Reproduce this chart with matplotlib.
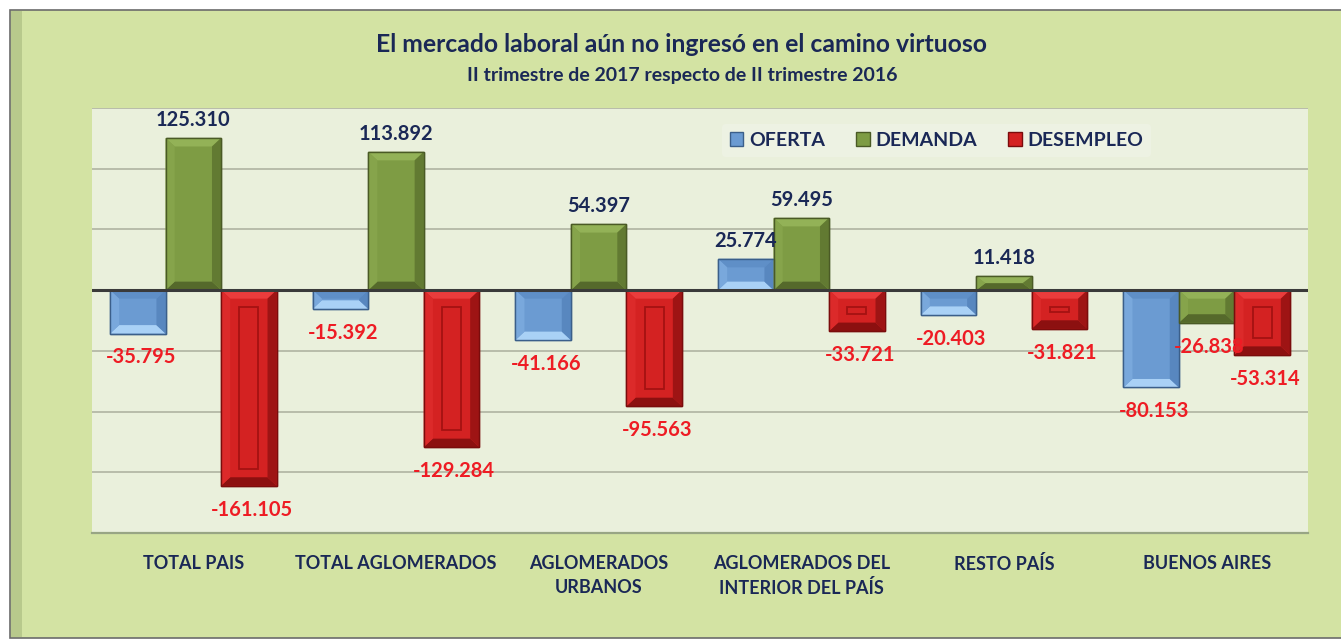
import numpy as np
import matplotlib
matplotlib.use("Agg")
import matplotlib.pyplot as plt
from matplotlib.patches import Polygon, Rectangle, Patch

plt.rcParams['font.family'] = ['Lato', 'DejaVu Sans']
plt.rcParams['font.weight'] = 'bold'

# data (miles de personas)
categories = ["TOTAL PAIS", "TOTAL AGLOMERADOS", "AGLOMERADOS\nURBANOS",
              "AGLOMERADOS DEL\nINTERIOR DEL PAÍS", "RESTO PAÍS", "BUENOS AIRES"]
oferta = [-35.795, -15.392, -41.166, 25.774, -20.403, -80.153]
demanda = [125.310, 113.892, 54.397, 59.495, 11.418, -26.838]
desempleo = [-161.105, -129.284, -95.563, -33.721, -31.821, -53.314]
series_names = ["OFERTA", "DEMANDA", "DESEMPLEO"]

navy = '#1a2856'
red_txt = '#ee1c24'

# face, top, bottom, left, right, edge
styles = {
    "OFERTA": dict(face='#6b9bd2', top='#5f8fc7', bottom='#a9d1f6', left='#79a8dc', right='#5887bf', edge='#3b5f8a'),
    "DEMANDA": dict(face='#7e9c44', top='#93b257', bottom='#55692b', left='#86a44b', right='#627a32', edge='#4a5a25'),
    "DESEMPLEO": dict(face='#d42222', top='#ea3c3c', bottom='#8c1010', left='#dc2a2a', right='#9e1414', edge='#7a0c0c'),
}

fig = plt.figure(figsize=(13.41, 6.42), dpi=100)
fig.patch.set_facecolor('white')

# outer chart frame
W, H = 1341, 642
fig.patches.append(Rectangle((10 / W, 4 / H), 1.0, (638 - 10) / H, transform=fig.transFigure,
                             facecolor='#d3e3a3', edgecolor='#6b6b6b', lw=1.2, zorder=-2))
fig.patches.append(Rectangle((11 / W, 5 / H), 11 / W, (636 - 10) / H, transform=fig.transFigure,
                             facecolor='#b8c98c', edgecolor='none', zorder=-1))

ax = fig.add_axes([92 / W, 1 - 533 / H, (1308 - 92) / W, (533 - 108) / H])
ax.set_facecolor('#eaf0dc')

x = np.arange(len(categories))
w = 0.274
dx, dy_max = 0.045, 7.0

for i, (name, vals) in enumerate(zip(series_names, [oferta, demanda, desempleo])):
    st = styles[name]
    bars = ax.bar(x + (i - 1) * w, vals, w, color=st['face'], edgecolor=st['edge'],
                  linewidth=1.0, zorder=3)
    for b, v in zip(bars, vals):
        x0, y0 = b.get_x(), min(b.get_y(), b.get_y() + b.get_height())
        x1, y1 = x0 + b.get_width(), y0 + abs(b.get_height())
        dy = min(dy_max, (y1 - y0) / 2)
        ix0, ix1, iy0, iy1 = x0 + dx, x1 - dx, y0 + dy, y1 - dy
        polys = {
            'top': [(x0, y1), (x1, y1), (ix1, iy1), (ix0, iy1)],
            'bottom': [(x0, y0), (x1, y0), (ix1, iy0), (ix0, iy0)],
            'left': [(x0, y0), (ix0, iy0), (ix0, iy1), (x0, y1)],
            'right': [(x1, y0), (ix1, iy0), (ix1, iy1), (x1, y1)],
        }
        for k, pts in polys.items():
            ax.add_patch(Polygon(pts, closed=True, facecolor=st[k], edgecolor='none', zorder=3.5))
        ax.add_patch(Rectangle((x0, y0), x1 - x0, y1 - y0, facecolor='none',
                               edgecolor=st['edge'], lw=1.0, zorder=3.6))
        if name == "DESEMPLEO" and (y1 - y0) > 4 * dy:
            ax.add_patch(Rectangle((x0 + 2 * dx, y0 + 2 * dy), (x1 - x0) - 4 * dx, (y1 - y0) - 4 * dy,
                                   facecolor='none', edgecolor='#a51212', lw=1.3, zorder=3.7))
        if v >= 0:
            ax.annotate(f"{v:.3f}", (b.get_x() + b.get_width() / 2, v), xytext=(0, 6),
                        textcoords='offset points', ha='center', va='bottom',
                        color=navy, fontsize=14.5, fontweight='bold', zorder=6)
        else:
            ax.annotate(f"{v:.3f}", (b.get_x() + b.get_width() / 2, v), xytext=(2, -10),
                        textcoords='offset points', ha='center', va='top',
                        color=red_txt, fontsize=14.5, fontweight='bold', zorder=6)

ax.axhline(0, color='#3a3a3a', lw=2.2, zorder=5)
ax.set_ylim(-200, 150)
ax.set_xlim(-0.5, len(categories) - 0.5)
ax.set_yticks(np.arange(-200, 151, 50))
ax.set_yticklabels([])
ax.yaxis.grid(True, color='#b4b8a6', lw=1.3, zorder=1)
ax.set_axisbelow(True)
ax.tick_params(axis='both', length=0)
ax.set_xticks(x)
ax.set_xticklabels(categories, fontsize=13, fontweight='bold', color=navy, linespacing=1.45)
ax.tick_params(axis='x', pad=16)
for s in ['top', 'left', 'right']:
    ax.spines[s].set_visible(False)
ax.spines['bottom'].set_color('#98a584')
ax.spines['bottom'].set_linewidth(1.6)

handles = [Patch(facecolor=styles[n]['face'], edgecolor=styles[n]['edge'], label=n) for n in series_names]
leg = ax.legend(handles=handles, loc='upper left', bbox_to_anchor=(0.51, 0.985), ncol=3,
                frameon=True, fontsize=14, handlelength=0.7, handleheight=0.7,
                handletextpad=0.3, columnspacing=1.6, borderpad=0.4)
leg.get_frame().set_facecolor('#eef3e5')
leg.get_frame().set_edgecolor('none')
for t in leg.get_texts():
    t.set_color(navy)
    t.set_fontweight('bold')

fig.text(0.508, 1 - 45 / H, "El mercado laboral aún no ingresó en el camino virtuoso",
         ha='center', va='center', fontsize=17.8, fontweight='bold', color=navy)
fig.text(0.509, 1 - 75 / H, "II trimestre de 2017 respecto de II trimestre 2016",
         ha='center', va='center', fontsize=14, fontweight='bold', color=navy)

fig.savefig("out.png", dpi=100, facecolor=fig.get_facecolor())
